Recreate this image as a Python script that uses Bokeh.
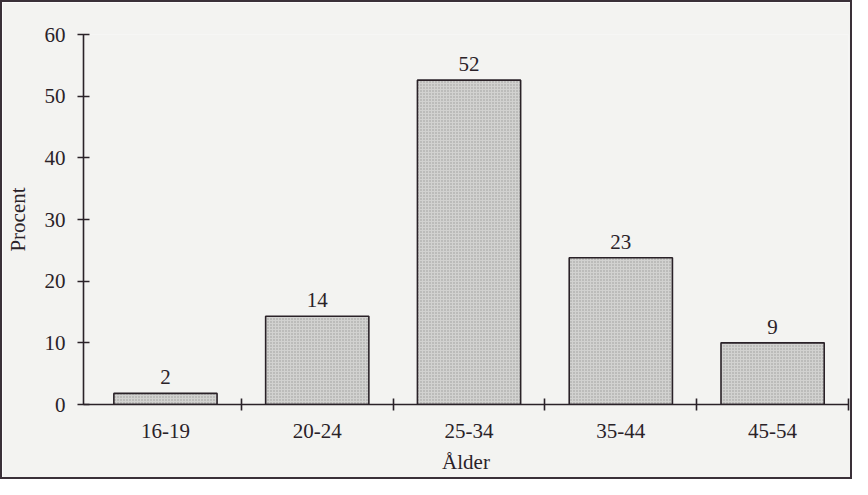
from bokeh.plotting import figure
from bokeh.models import Range1d, FixedTicker, ColumnDataSource
from bokeh.core.properties import value
from bokeh.embed import file_html
from bokeh.resources import INLINE

# Data
categories = ["16-19", "20-24", "25-34", "35-44", "45-54"]
heights = [1.8, 14.3, 52.6, 23.8, 10.0]
bar_labels = ["2", "14", "52", "23", "9"]
y_ticks = [0, 10, 20, 30, 40, 50, 60]

xs = list(range(1, len(categories) + 1))
bounds = [x + 0.5 for x in xs]

FONT = "Liberation Serif"
INK = "#2a2228"
BG = "#f3f3f1"

src = ColumnDataSource(dict(x=xs, top=heights, lab=bar_labels))

p = figure(width=852, height=479, output_backend="svg", toolbar_location=None,
           x_range=Range1d(0.46, 5.5), y_range=Range1d(0, 60),
           min_border_left=77, min_border_right=6, min_border_top=32, min_border_bottom=77,
           background_fill_color=BG, border_fill_color=BG,
           styles={"border": "2px solid #3a3038", "box-sizing": "border-box"})
p.outline_line_color = None
p.grid.visible = False

p.vbar(x="x", top="top", bottom=0, width=0.68, source=src,
       fill_color="#d2d2d0", line_color=INK, line_width=1.6,
       hatch_pattern="dot", hatch_color="#9a9a98", hatch_scale=3, hatch_weight=0.6)

p.text(x="x", y="top", text="lab", source=src, text_font=value(FONT),
       text_font_size="21px", text_color=INK, text_align="center",
       text_baseline="bottom", y_offset=-9)

# y axis
ya = p.yaxis[0]
ya.ticker = FixedTicker(ticks=y_ticks)
ya.major_tick_in = 6
ya.major_tick_out = 6
ya.minor_tick_line_color = None
ya.axis_line_width = 1.6
ya.axis_line_color = INK
ya.major_tick_line_color = INK
ya.major_tick_line_width = 1.6
ya.major_label_text_font = FONT
ya.major_label_text_font_size = "21px"
ya.major_label_text_color = INK
ya.major_label_standoff = 12
ya.axis_label = "Procent"
ya.axis_label_text_font = FONT
ya.axis_label_text_font_size = "21px"
ya.axis_label_text_font_style = "normal"
ya.axis_label_text_color = INK
ya.axis_label_standoff = 12

# x axis
xa = p.xaxis[0]
xa.ticker = FixedTicker(ticks=xs, minor_ticks=bounds)
xa.major_label_overrides = {x: c for x, c in zip(xs, categories)}
xa.major_tick_in = 0
xa.major_tick_out = 0
xa.minor_tick_in = 6
xa.minor_tick_out = 6
xa.minor_tick_line_color = INK
xa.minor_tick_line_width = 1.6
xa.axis_line_width = 1.6
xa.axis_line_color = INK
xa.major_label_text_font = FONT
xa.major_label_text_font_size = "21px"
xa.major_label_text_color = INK
xa.major_label_standoff = 13
xa.axis_label = "Ålder"
xa.axis_label_text_font = FONT
xa.axis_label_text_font_size = "21px"
xa.axis_label_text_font_style = "normal"
xa.axis_label_text_color = INK
xa.axis_label_standoff = 9

open("out.html", "w").write(file_html(p, INLINE))
